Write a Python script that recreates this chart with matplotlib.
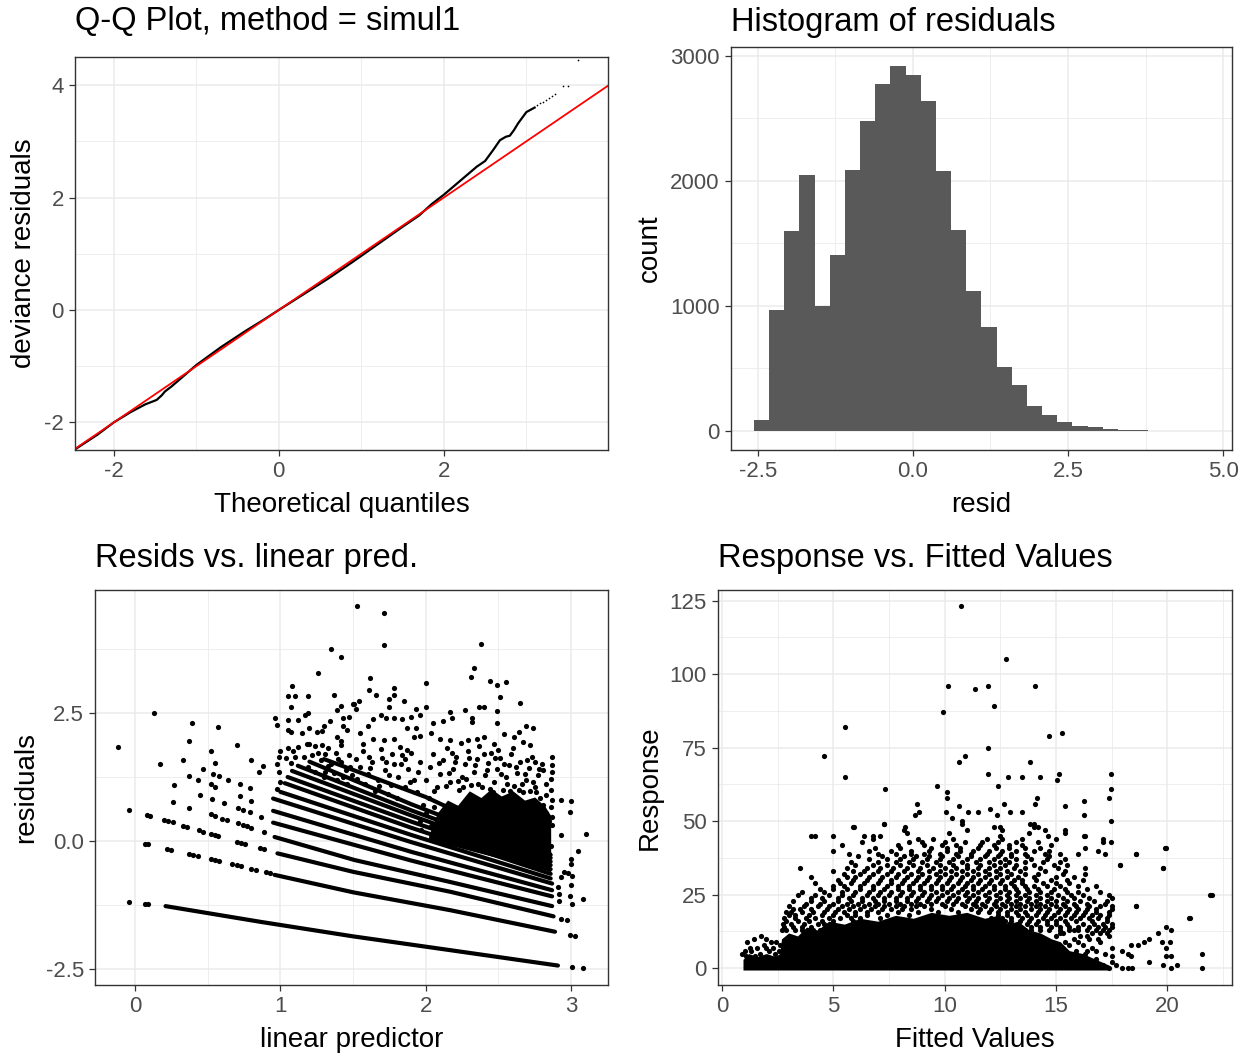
import numpy as np
import matplotlib
matplotlib.use("Agg")
import matplotlib.pyplot as plt

plt.rcParams['font.family'] = ['Liberation Sans', 'DejaVu Sans']
plt.rcParams['axes.unicode_minus'] = False

# ---------------- Q-Q plot ----------------
qq_theo = [-2.47, -2.2, -2.0, -1.8, -1.62, -1.48, -1.42, -1.38, -1.3, -1.15, -1.0, -0.7,
           -0.4, -0.2, 0.0, 0.3, 0.6, 0.9, 1.2, 1.5, 1.7, 1.85, 2.0, 2.2, 2.4, 2.5,
           2.6, 2.68, 2.75, 2.8, 2.85, 2.9, 2.95, 3.0, 3.05, 3.1]
qq_samp = [-2.48, -2.22, -2.0, -1.82, -1.68, -1.6, -1.52, -1.45, -1.36, -1.17, -0.98, -0.66,
           -0.37, -0.19, 0.0, 0.28, 0.56, 0.86, 1.17, 1.48, 1.68, 1.88, 2.05, 2.3, 2.55, 2.65,
           2.85, 3.02, 3.08, 3.1, 3.2, 3.32, 3.42, 3.52, 3.56, 3.6]
qq_tail_theo = [3.13, 3.17, 3.2, 3.24, 3.28, 3.31, 3.35, 3.44, 3.5, 3.63]
qq_tail_samp = [3.64, 3.68, 3.7, 3.73, 3.77, 3.8, 3.85, 3.99, 3.99, 4.44]
qq_line_intercept = 0.0
qq_line_slope = 1.0

# ---------------- Histogram ----------------
hist_start = -2.565
hist_width = 0.2446
hist_counts = [83, 969, 1601, 2047, 998, 1407, 2090, 2480, 2774, 2919, 2844, 2639, 2080,
               1606, 1122, 829, 511, 363, 199, 124, 67, 38, 27, 16, 5, 4, 2, 1, 0, 1]

# ---------------- Resids vs linear predictor ----------------
# one band of residuals per response value, vertices
band_x = [
    [0.21, 0.87, 1.50, 2.17, 2.91],
    [0.96, 1.50, 2.17, 2.89],
    [0.98, 1.50, 2.17, 2.88],
    [0.96, 1.51, 2.17, 2.87],
    [0.95, 1.90, 2.87],
    [0.95, 1.90, 2.87],
    [0.95, 1.90, 2.87],
    [1.00, 1.90, 2.86],
    [1.03, 1.90, 2.86],
    [1.05, 1.90, 2.86],
    [1.08, 1.90, 2.86],
    [1.12, 1.90, 2.86],
    [1.20, 1.90, 2.86],
    [1.30, 2.00, 2.86],
]
band_y = [
    [-1.27, -1.58, -1.86, -2.13, -2.43],
    [-0.66, -1.00, -1.35, -1.77],
    [-0.24, -0.60, -0.99, -1.47],
    [0.08, -0.37, -0.80, -1.27],
    [0.36, -0.38, -1.08],
    [0.59, -0.21, -0.96],
    [0.83, -0.02, -0.83],
    [0.96, 0.12, -0.73],
    [1.13, 0.26, -0.64],
    [1.25, 0.38, -0.55],
    [1.37, 0.50, -0.47],
    [1.47, 0.60, -0.40],
    [1.55, 0.72, -0.33],
    [1.60, 0.86, -0.27],
]
# darkest part of the cloud
core_x = [2.02, 2.08, 2.15, 2.22, 2.3, 2.38, 2.45, 2.52, 2.6, 2.68, 2.75, 2.82, 2.86]
core_lo = [0.02, -0.02, -0.07, -0.12, -0.18, -0.24, -0.29, -0.34, -0.40, -0.46, -0.51, -0.56, -0.60]
core_hi = [0.10, 0.55, 0.80, 0.70, 0.98, 0.85, 1.02, 0.88, 0.98, 0.80, 0.86, 0.68, 0.50]

resid_pts = [
    (-0.12, 1.83), (0.13, 2.50), (0.39, 2.31), (0.57, 2.22), (0.37, 1.96), (0.70, 1.87),
    (0.52, 1.76), (0.17, 1.50), (0.33, 1.58), (0.55, 1.52), (0.80, 1.58), (0.85, 1.34),
    (0.88, 1.47), (0.47, 1.40), (0.27, 1.09), (0.26, 0.77), (0.37, 0.64), (-0.04, 0.60),
    (-0.04, -1.18), (0.07, -1.22), (0.09, -1.22), (0.07, -0.06), (0.09, -0.06),
    (0.22, -0.16), (0.25, -0.18), (0.37, -0.25), (0.40, -0.27), (0.43, -0.29), (0.52, -0.35),
    (0.55, -0.37), (0.58, -0.39), (0.67, -0.45), (0.70, -0.47), (0.73, -0.49), (0.80, -0.54),
    (0.83, -0.56), (0.90, -0.61), (0.93, -0.63),
    (0.08, 0.50), (0.10, 0.48), (0.20, 0.42), (0.23, 0.39), (0.26, 0.37), (0.33, 0.30),
    (0.36, 0.28), (0.44, 0.21), (0.47, 0.18), (0.52, 0.14), (0.55, 0.11), (0.57, 0.09),
    (0.70, -0.02), (0.73, -0.04), (0.76, -0.06), (0.86, -0.14), (0.89, -0.16),
    (0.52, 0.52), (0.55, 0.49), (0.60, 0.44), (0.63, 0.41), (0.71, 0.36), (0.74, 0.32),
    (0.77, 0.29), (0.80, 0.25), (0.89, 0.17),
    (0.45, 0.90), (0.53, 0.82), (0.61, 0.74), (0.71, 0.64), (0.74, 0.61), (0.79, 0.56), (0.87, 0.46),
    (0.37, 1.27), (0.43, 1.19), (0.52, 1.11), (0.55, 1.06), (0.72, 0.87), (0.80, 0.79),
    (0.54, 1.31), (0.58, 1.27), (0.64, 1.20), (0.72, 1.11), (0.79, 1.03),
    # x between 1 and 1.5
    (1.35, 3.74), (1.42, 3.59), (1.26, 3.28), (1.08, 3.03), (1.05, 2.83), (1.10, 2.83),
    (1.37, 2.86), (1.19, 2.83), (1.07, 2.62), (1.42, 2.64), (1.50, 2.67), (0.96, 2.41),
    (1.05, 2.36), (1.12, 2.36), (1.17, 2.47), (1.19, 2.49), (0.98, 2.27), (1.39, 2.56),
    (1.43, 2.41), (1.47, 2.43), (1.05, 2.16), (1.07, 2.12), (1.15, 2.10), (1.20, 2.21),
    (1.25, 2.12), (1.30, 2.24), (1.29, 2.15), (1.34, 2.34), (1.43, 2.24), (1.46, 2.17),
    (1.39, 2.03), (1.42, 1.95), (1.42, 1.87), (1.00, 1.76), (1.05, 1.81), (1.09, 1.76),
    (1.12, 1.84), (1.18, 1.89), (1.20, 1.90), (1.24, 1.85), (1.29, 1.87), (1.33, 1.81),
    (0.99, 1.64), (0.98, 1.51), (1.04, 1.63), (1.07, 1.53), (1.10, 1.64), (1.16, 1.64),
    (1.22, 1.68), (1.26, 1.71), (1.31, 1.70), (1.38, 1.72), (1.40, 1.61), (1.47, 1.68),
    (0.99, 1.34), (1.00, 1.16), (0.98, 1.01), (1.35, 1.51), (1.42, 1.55), (1.48, 1.45),
    (1.19, 1.45), (1.24, 1.35), (1.31, 1.35), (1.37, 1.32), (1.43, 1.26), (1.49, 1.29),
    (1.28, 1.58), (1.33, 1.46), (1.45, 1.38), (1.39, 1.20), (1.46, 1.12), (1.30, 1.25),
    # x between 1.5 and 3.1
    (1.53, 4.58), (1.71, 4.46), (1.71, 3.83), (2.38, 3.85), (2.33, 3.38), (2.31, 3.21),
    (2.44, 3.13), (2.49, 3.04), (2.55, 3.10), (2.51, 2.82), (2.65, 2.70), (1.62, 3.18),
    (1.61, 2.95), (1.66, 2.85), (1.78, 2.98), (1.78, 2.85), (2.00, 3.08), (1.75, 2.77),
    (1.85, 2.73), (1.51, 2.68), (1.54, 2.73), (1.52, 2.58), (1.75, 2.61), (2.00, 2.62),
    (1.69, 2.47), (1.73, 2.40), (1.90, 2.43), (1.93, 2.57), (1.96, 2.46), (2.17, 2.52),
    (2.27, 2.55), (2.37, 2.61), (2.40, 2.62), (2.49, 2.53), (2.32, 2.41), (2.32, 2.33),
    (2.05, 2.31), (2.12, 2.35), (2.18, 2.41), (2.49, 2.30), (2.69, 2.25), (2.74, 2.21),
    (1.60, 2.25), (1.64, 2.38), (1.78, 2.41), (1.84, 2.38), (1.87, 2.20), (1.93, 2.21),
    (1.92, 2.04), (1.96, 2.05), (2.04, 2.10), (2.10, 2.00), (2.17, 1.97), (2.24, 1.91),
    (2.29, 1.97), (2.35, 2.00), (2.40, 2.04), (2.47, 1.89), (2.54, 2.09), (2.61, 2.04),
    (2.64, 2.13), (2.67, 1.94), (2.72, 1.87), (1.55, 2.10), (1.57, 1.90), (1.64, 2.00),
    (1.71, 1.97), (1.78, 2.00), (1.82, 1.84), (2.87, 1.64), (2.87, 1.48), (2.87, 1.35),
    (2.80, 1.51), (2.75, 1.55), (2.81, 1.38), (2.86, 1.22), (2.83, 1.12), (2.86, 0.99),
    (2.87, 0.80), (2.83, 0.89), (2.86, 0.67), (2.87, 0.47), (2.87, 0.31),
    (2.93, 0.81), (3.00, 0.78), (2.99, 0.56), (2.93, 0.11), (3.10, 0.13), (3.05, -0.20),
    (3.00, -0.36), (3.00, -0.44), (2.95, -0.60), (2.98, -0.63), (3.01, -0.68), (2.93, -0.71),
    (2.91, -0.89), (3.00, -0.86), (2.92, -1.04), (2.92, -1.17), (2.99, -1.08), (3.01, -1.22),
    (3.08, -1.13), (2.93, -1.53), (2.97, -1.55), (2.99, -1.84), (3.03, -1.85), (3.01, -2.46),
    (3.08, -2.48),
    (1.55, 1.45), (1.60, 1.30), (1.63, 1.55), (1.67, 1.20), (1.70, 1.62), (1.72, 1.38),
    (1.76, 1.10), (1.78, 1.50), (1.81, 1.25), (1.84, 1.68), (1.86, 1.05), (1.88, 1.40),
    (1.90, 1.72), (1.92, 1.20), (1.94, 0.95), (1.96, 1.55), (1.58, 1.12), (1.65, 0.98),
    (1.74, 0.92), (1.80, 0.85), (1.52, 1.60), (1.57, 1.75), (1.69, 1.80), (1.77, 1.70),
    (1.87, 1.78), (1.53, 1.22), (1.62, 1.42), (1.68, 1.08), (1.75, 1.28), (1.83, 1.50),
    (1.89, 1.15), (1.95, 1.35), (1.61, 1.65), (1.73, 1.55), (1.86, 1.60),
    (2.00, 1.20), (2.03, 1.45), (2.05, 1.70), (2.08, 1.05), (2.10, 1.30), (2.12, 1.58),
    (2.15, 1.82), (2.17, 1.15), (2.19, 1.40), (2.21, 1.65), (2.23, 1.00), (2.25, 1.25),
    (2.27, 1.50), (2.29, 1.75), (2.31, 1.10), (2.33, 1.35), (2.35, 1.60), (2.37, 1.85),
    (2.39, 1.05), (2.41, 1.28), (2.43, 1.52), (2.45, 1.72), (2.47, 1.15), (2.49, 1.40),
    (2.51, 1.62), (2.53, 1.00), (2.55, 1.25), (2.57, 1.48), (2.59, 1.70), (2.61, 1.08),
    (2.63, 1.32), (2.65, 1.55), (2.67, 0.95), (2.69, 1.20), (2.71, 1.42), (2.73, 1.65),
    (2.75, 1.05), (2.77, 1.28), (2.79, 0.85), (2.81, 0.70), (2.83, 0.55), (2.85, 0.40),
    (2.82, 0.20), (2.84, 0.05), (2.86, -0.10), (2.85, -0.25), (2.84, -0.45),
    (2.06, 0.98), (2.14, 1.08), (2.22, 1.18), (2.36, 1.12), (2.44, 1.02), (2.58, 0.98),
    (2.66, 1.12), (2.72, 0.98), (2.02, 0.85), (1.98, 0.70),
    (1.96, 0.40), (2.00, 0.55), (2.04, 0.30), (1.97, 0.22), (2.06, 0.66),
    (2.09, 1.52), (2.16, 1.33), (2.20, 1.55), (2.28, 1.22), (2.34, 1.48), (2.42, 1.38),
    (2.48, 1.62), (2.52, 1.30), (2.56, 1.12), (2.62, 1.45), (2.68, 1.30), (2.74, 1.15),
    (2.78, 1.40), (2.70, 1.58), (2.60, 1.82), (2.50, 1.78), (2.40, 1.70), (2.30, 1.62),
    (2.18, 1.72), (2.26, 1.05), (2.46, 0.95), (2.54, 1.50), (2.64, 1.00), (2.76, 0.95),
]

# ---------------- Response vs fitted ----------------
dense_x = [0.95, 1.2, 1.6, 2.0, 2.4, 2.6, 2.68, 3.0, 3.4, 3.8, 4.3, 4.8, 5.5, 6.2, 7.0, 7.8,
           8.6, 9.4, 10.2, 11.0, 11.8, 12.4, 12.8, 13.3, 13.8, 14.3, 14.8, 15.2, 15.6, 16.2,
           16.8, 17.4]
dense_top = [3, 5, 4, 5, 4, 5, 10, 12, 11, 14, 13, 16, 15, 17, 16, 18, 17, 19, 18, 19, 17,
             18, 15, 16, 13, 12, 10, 9, 6, 5, 3, 1]

resp_rows = {
    13: [2.72, 2.9, 3.3, 3.6, 4.1, 4.4, 12.9, 13.2, 13.6, 13.9, 14.3, 14.7, 15.2, 15.6, 16.0, 16.4, 16.8, 17.1, 17.4],
    14: [2.8, 3.2, 3.6, 4.0, 13.1, 13.9, 14.3, 14.8, 15.2, 15.6, 16.0, 16.5, 16.9, 17.2, 17.5],
    15: [2.75, 3.1, 3.7, 4.3, 4.6, 12.9, 13.3, 13.7, 14.1, 14.6, 15.0, 15.5, 16.2, 16.7, 17.1, 17.5],
    16: [2.9, 3.4, 3.9, 4.5, 5.0, 5.9, 12.7, 13.0, 13.4, 13.8, 14.2, 14.6, 15.0, 15.4, 15.9, 16.6, 17.3],
    17: [2.8, 3.3, 3.8, 4.2, 4.8, 5.3, 5.8, 6.2, 7.1, 12.1, 12.6, 13.0, 13.5, 13.9, 14.4, 14.8, 15.2,
         15.7, 16.1, 16.5, 16.9, 17.3, 21.0],
    18: [3.0, 3.3, 3.9, 4.5, 5.0, 5.6, 6.0, 6.5, 7.4, 8.4, 12.4, 12.8, 13.3, 13.7, 14.1, 14.5, 14.9,
         15.4, 15.8, 16.2, 16.6, 17.0, 17.4],
    19: [2.9, 3.1, 3.6, 4.1, 4.6, 5.1, 5.5, 6.0, 6.5, 7.0, 7.9, 8.8, 9.7, 10.6, 11.5, 12.0, 12.4,
         12.8, 13.2, 13.6, 14.2, 14.6, 15.1, 15.5, 15.9, 16.3, 16.8, 17.4],
    20: [3.2, 3.5, 4.0, 4.7, 5.2, 5.7, 6.2, 6.7, 7.2, 7.6, 8.1, 8.5, 9.4, 10.3, 11.2, 11.6, 12.1,
         12.5, 13.0, 13.4, 13.9, 14.3, 14.7, 15.2, 15.6, 16.0, 16.4, 16.8, 17.5],
    21: [3.0, 3.7, 4.3, 4.8, 5.4, 5.9, 6.4, 6.9, 7.3, 7.8, 8.2, 8.7, 9.1, 10.0, 10.9, 11.4, 11.8,
         12.3, 12.7, 13.2, 13.6, 14.1, 14.5, 15.0, 15.4, 15.9, 16.5, 17.0, 17.5, 18.6],
    22: [3.8, 4.4, 5.0, 5.6, 6.1, 6.6, 7.0, 7.5, 8.0, 8.5, 8.9, 9.4, 9.9, 10.4, 10.8, 11.3, 11.7,
         12.2, 12.6, 13.0, 13.4, 13.9, 14.3, 14.8, 15.3, 15.8, 16.4, 17.2],
    23: [3.2, 4.0, 4.6, 5.2, 5.8, 6.3, 6.9, 7.3, 7.8, 8.3, 8.7, 9.2, 9.6, 10.1, 10.5, 11.0, 11.4,
         11.9, 12.3, 12.8, 13.2, 13.7, 14.1, 14.6, 15.0, 15.5, 16.1, 16.7, 17.3],
    24: [4.0, 4.5, 5.2, 5.7, 6.3, 6.8, 7.3, 7.8, 8.3, 8.8, 9.3, 9.7, 10.2, 10.6, 11.1, 11.5, 12.0,
         12.5, 12.9, 13.4, 13.8, 14.3, 14.8, 15.3, 15.8, 16.5, 17.5],
    25: [3.4, 4.2, 4.8, 5.4, 5.9, 6.5, 7.0, 7.5, 8.0, 8.5, 9.0, 9.4, 9.9, 10.4, 10.9, 11.3, 11.8,
         12.3, 12.8, 13.2, 13.6, 14.1, 14.6, 15.1, 15.7, 16.2, 17.4, 22.0],
    26: [3.6, 4.6, 5.4, 6.0, 6.6, 7.1, 7.6, 8.1, 8.6, 9.1, 9.6, 10.1, 10.6, 11.0, 11.5, 12.0, 12.5,
         12.9, 13.3, 13.8, 14.3, 14.8, 15.5, 16.0, 17.0],
    27: [4.4, 5.0, 5.6, 6.2, 6.8, 7.3, 7.9, 8.4, 8.9, 9.4, 9.9, 10.3, 10.8, 11.3, 11.7, 12.2, 12.7,
         13.2, 13.7, 14.2, 14.9, 15.4, 16.4],
    28: [5.0, 5.5, 6.2, 6.8, 7.4, 7.9, 8.4, 8.9, 9.4, 9.9, 10.4, 10.9, 11.3, 11.8, 12.2, 12.7, 13.1,
         13.6, 14.0, 14.6, 15.2, 16.0, 16.8],
    29: [4.2, 5.3, 5.8, 6.4, 7.0, 7.6, 8.1, 8.6, 9.1, 9.6, 10.1, 10.6, 11.0, 11.5, 12.0, 12.5, 13.0,
         13.5, 14.4, 15.0, 15.6],
    30: [5.2, 5.9, 6.5, 7.1, 7.6, 8.2, 8.7, 9.2, 9.7, 10.2, 10.7, 11.2, 11.6, 12.1, 12.6, 13.1, 13.5,
         14.1, 14.8, 15.5, 16.2],
    31: [4.0, 5.6, 6.0, 6.6, 7.2, 7.8, 8.3, 8.8, 9.3, 9.8, 10.3, 10.8, 11.3, 11.8, 12.3, 12.8, 13.3,
         14.0, 15.0, 15.8],
    32: [5.5, 6.2, 6.8, 7.4, 7.9, 8.5, 9.0, 9.6, 10.0, 10.5, 11.0, 11.5, 12.0, 12.5, 13.0, 13.6, 14.2,
         15.3, 16.3],
    33: [5.0, 5.9, 6.4, 7.0, 7.6, 8.2, 8.8, 9.3, 9.8, 10.3, 10.8, 11.3, 11.8, 12.3, 12.8, 13.4, 14.5, 15.4],
    34: [3.5, 5.6, 6.5, 7.1, 7.7, 8.3, 8.9, 9.5, 10.0, 10.5, 11.0, 11.5, 12.0, 12.5, 13.1, 13.6, 14.3,
         15.1, 16.3, 19.8],
    35: [6.0, 6.8, 7.4, 8.0, 8.6, 9.2, 9.8, 10.4, 11.0, 11.6, 12.2, 12.7, 13.2, 14.0, 14.9, 15.5, 17.9],
    36: [5.8, 7.0, 7.8, 8.4, 9.0, 9.6, 10.2, 10.8, 11.4, 12.0, 12.5, 12.9, 13.6, 14.4, 15.2],
    37: [6.6, 7.4, 8.0, 8.6, 9.2, 9.8, 10.4, 11.0, 11.6, 12.2, 12.7, 13.2, 13.9, 14.6, 15.4],
    38: [6.1, 7.2, 8.2, 8.7, 9.3, 9.9, 10.6, 11.2, 11.8, 12.4, 13.0, 13.7, 14.7],
    39: [5.7, 7.0, 7.8, 8.5, 9.1, 9.8, 10.5, 11.2, 11.9, 12.5, 13.0, 13.6, 14.5, 15.2, 16.0, 17.2, 18.6],
    40: [5.0, 6.6, 7.6, 8.5, 9.3, 10.1, 10.7, 11.3, 12.0, 12.6, 13.2, 14.0, 14.7, 16.9],
    41: [6.9, 8.0, 9.4, 10.1, 10.7, 11.5, 12.3, 12.9, 13.6, 14.3, 16.3, 19.9],
    42: [5.4, 7.9, 9.1, 9.9, 10.5, 11.6, 12.2, 12.9, 13.5, 14.8],
    43: [6.3, 8.4, 9.0, 10.0, 10.9, 11.7, 12.4, 13.2, 14.2, 17.1],
    44: [6.8, 8.8, 9.5, 10.4, 11.9, 12.6, 13.5, 15.0],
    45: [4.0, 4.2, 5.0, 6.4, 6.8, 7.1, 12.5, 16.3],
    46: [8.3, 10.2, 13.8, 15.4],
    47: [8.2, 11.0, 12.6, 14.5],
    48: [5.9, 12.2, 12.5, 14.0, 14.2],
    49: [7.3, 10.8, 14.0],
}
resp_pts = [
    (10.74, 123), (12.74, 105), (10.16, 96), (11.38, 95), (11.94, 96), (14.05, 96),
    (12.23, 89), (9.93, 87), (5.54, 82), (15.28, 80), (14.70, 79), (4.59, 72),
    (11.94, 75), (10.93, 72), (10.65, 70), (13.83, 70), (5.54, 65), (11.94, 66),
    (12.87, 65), (13.48, 65), (14.28, 65), (15.12, 66), (15.06, 64), (17.48, 66),
    (9.66, 62), (7.33, 61), (12.42, 62), (10.09, 60), (10.09, 58), (14.17, 58),
    (17.48, 61), (17.39, 58), (16.28, 57), (12.65, 56), (8.78, 56), (10.67, 55),
    (15.42, 55), (12.03, 54), (14.05, 56), (8.86, 53), (8.69, 52), (10.07, 53),
    (11.07, 53), (11.51, 53), (12.96, 53), (13.48, 53), (10.34, 51), (16.28, 52),
    (12.34, 52), (7.30, 49), (10.80, 50), (17.48, 50), (15.43, 47), (5.92, 48),
    (8.22, 48), (13.84, 49), (14.63, 45), (16.28, 45), (17.48, 43), (17.13, 44),
    (19.95, 41), (18.58, 39), (17.88, 35), (19.80, 34), (18.58, 21), (21.94, 25),
    (20.98, 17), (21.56, 5), (21.56, 0), (20.16, 0), (20.44, 1), (19.80, 1),
    (19.95, 14), (20.16, 13), (19.58, 12), (19.20, 10), (18.95, 9), (18.69, 8),
    (18.38, 8), (17.97, 6), (18.22, 5), (18.38, 4), (19.16, 2), (19.78, 9),
    (20.13, 9), (19.95, 7), (19.95, 4), (20.16, 4), (18.40, 0), (17.97, 0),
    (18.24, 0), (17.71, 1),
    (1.15, 9), (1.45, 10), (1.78, 11), (2.00, 10), (2.23, 9), (2.45, 9), (0.90, 5),
    (1.30, 6), (1.60, 7), (2.10, 6), (2.40, 5), (1.90, 8), (1.10, 4), (1.70, 5),
    (1.25, 7), (2.30, 7), (1.50, 4), (2.55, 6), (1.05, 6), (2.0, 7), (2.6, 8),
    (15.8, 10), (16.2, 8), (16.6, 12), (17.0, 9), (17.4, 11), (17.5, 7), (17.2, 5),
    (16.8, 3), (17.5, 2), (17.4, 0), (16.0, 1), (15.7, 4), (17.1, 1), (16.4, 6),
    (15.2, 12), (15.4, 9), (15.0, 11), (15.6, 8), (15.9, 6), (16.3, 5),
    (16.6, 7), (16.9, 10), (17.3, 12), (15.3, 12), (16.1, 11), (16.8, 6), (17.5, 4),
    (16.0, 9), (16.4, 11), (17.0, 12), (15.8, 13), (16.5, 10),
]

# ---------------- drawing ----------------
GRID = '#EBEBEB'
TICKC = '#4D4D4D'
TSIZE = 23.5
LSIZE = 20
KSIZE = 16
DOT = 14


def style(ax, xmaj, xlab, xmin, ymaj, ylab, ymin):
    ax.set_xticks(xmaj)
    ax.set_xticklabels(xlab)
    ax.set_xticks(xmin, minor=True)
    ax.set_yticks(ymaj)
    ax.set_yticklabels(ylab)
    ax.set_yticks(ymin, minor=True)
    ax.grid(which='major', color=GRID, lw=1.1)
    ax.grid(which='minor', color=GRID, lw=0.6)
    ax.set_axisbelow(True)
    ax.tick_params(which='minor', length=0)
    ax.tick_params(which='major', length=4, width=0.9, color='#333333',
                   labelsize=KSIZE, labelcolor=TICKC, pad=4)
    for s in ax.spines.values():
        s.set_color('#333333')
        s.set_linewidth(1.0)


fig = plt.figure(figsize=(12.54, 10.57), dpi=100)

# Q-Q
ax1 = fig.add_axes([0.0598, 0.5743, 0.4251, 0.3718])
ax1.plot(qq_theo, qq_samp, color='black', lw=1.6)
ax1.scatter(qq_tail_theo, qq_tail_samp, s=1.5, color='black', lw=0)
ax1.axline((0, qq_line_intercept), slope=qq_line_slope, color='red', lw=1.3)
ax1.set_xlim(-2.47, 3.99)
ax1.set_ylim(-2.49, 4.5)
style(ax1, [-2, 0, 2], ['-2', '0', '2'], [-1, 1, 3],
      [-2, 0, 2, 4], ['-2', '0', '2', '4'], [-1, 1, 3])
ax1.set_xlabel("Theoretical quantiles", fontsize=LSIZE, labelpad=7)
ax1.set_ylabel("deviance residuals", fontsize=LSIZE, labelpad=5)
fig.text(75 / 1254, 1 - 22 / 1057, "Q-Q Plot, method = simul1", fontsize=TSIZE,
         ha='left', va='center')

# histogram
ax2 = fig.add_axes([0.5829, 0.5743, 0.3995, 0.3812])
lefts = [hist_start + i * hist_width for i in range(len(hist_counts))]
ax2.bar(lefts, hist_counts, width=hist_width, align='edge', color='#595959', lw=0)
ax2.set_xlim(-2.935, 5.143)
ax2.set_ylim(-153, 3070)
style(ax2, [-2.5, 0, 2.5, 5.0], ['-2.5', '0.0', '2.5', '5.0'], [-1.25, 1.25, 3.75],
      [0, 1000, 2000, 3000], ['0', '1000', '2000', '3000'], [500, 1500, 2500])
ax2.set_xlabel("resid", fontsize=LSIZE, labelpad=7)
ax2.set_ylabel("count", fontsize=LSIZE, labelpad=5)
fig.text(731 / 1254, 1 - 22 / 1057, "Histogram of residuals", fontsize=TSIZE,
         ha='left', va='center')

# resids vs linear predictor
ax3 = fig.add_axes([0.0758, 0.0681, 0.4091, 0.3737])
for bx, by in zip(band_x, band_y):
    ax3.plot(bx, by, color='black', lw=3.0, solid_capstyle='round')
ax3.fill_between(core_x, core_lo, core_hi, color='black', lw=0)
rx = [p[0] for p in resid_pts]
ry = [p[1] for p in resid_pts]
ax3.scatter(rx, ry, s=DOT, color='black', lw=0)
ax3.set_xlim(-0.275, 3.255)
ax3.set_ylim(-2.81, 4.90)
style(ax3, [0, 1, 2, 3], ['0', '1', '2', '3'], [0.5, 1.5, 2.5],
      [-2.5, 0, 2.5], ['-2.5', '0.0', '2.5'], [-1.25, 1.25, 3.75])
ax3.set_xlabel("linear predictor", fontsize=LSIZE, labelpad=7)
ax3.set_ylabel("residuals", fontsize=LSIZE, labelpad=5)
fig.text(95 / 1254, 1 - 558 / 1057, "Resids vs. linear pred.", fontsize=TSIZE,
         ha='left', va='center')

# response vs fitted
ax4 = fig.add_axes([0.5726, 0.0681, 0.4099, 0.3737])
ax4.fill_between(dense_x, [-0.6] * len(dense_x), dense_top, color='black', lw=0)
fx, fy = [], []
for yv, xs in resp_rows.items():
    for xv in xs:
        fx.append(xv)
        fy.append(yv)
fx += [p[0] for p in resp_pts]
fy += [p[1] for p in resp_pts]
ax4.scatter(fx, fy, s=DOT, color='black', lw=0)
ax4.set_xlim(-0.17, 22.91)
ax4.set_ylim(-5.7, 128.6)
style(ax4, [0, 5, 10, 15, 20], ['0', '5', '10', '15', '20'], [2.5, 7.5, 12.5, 17.5, 22.5],
      [0, 25, 50, 75, 100, 125], ['0', '25', '50', '75', '100', '125'],
      [12.5, 37.5, 62.5, 87.5, 112.5])
ax4.set_xlabel("Fitted Values", fontsize=LSIZE, labelpad=7)
ax4.set_ylabel("Response", fontsize=LSIZE, labelpad=5)
fig.text(718 / 1254, 1 - 558 / 1057, "Response vs. Fitted Values", fontsize=TSIZE,
         ha='left', va='center')

fig.savefig("out.png", dpi=100)
